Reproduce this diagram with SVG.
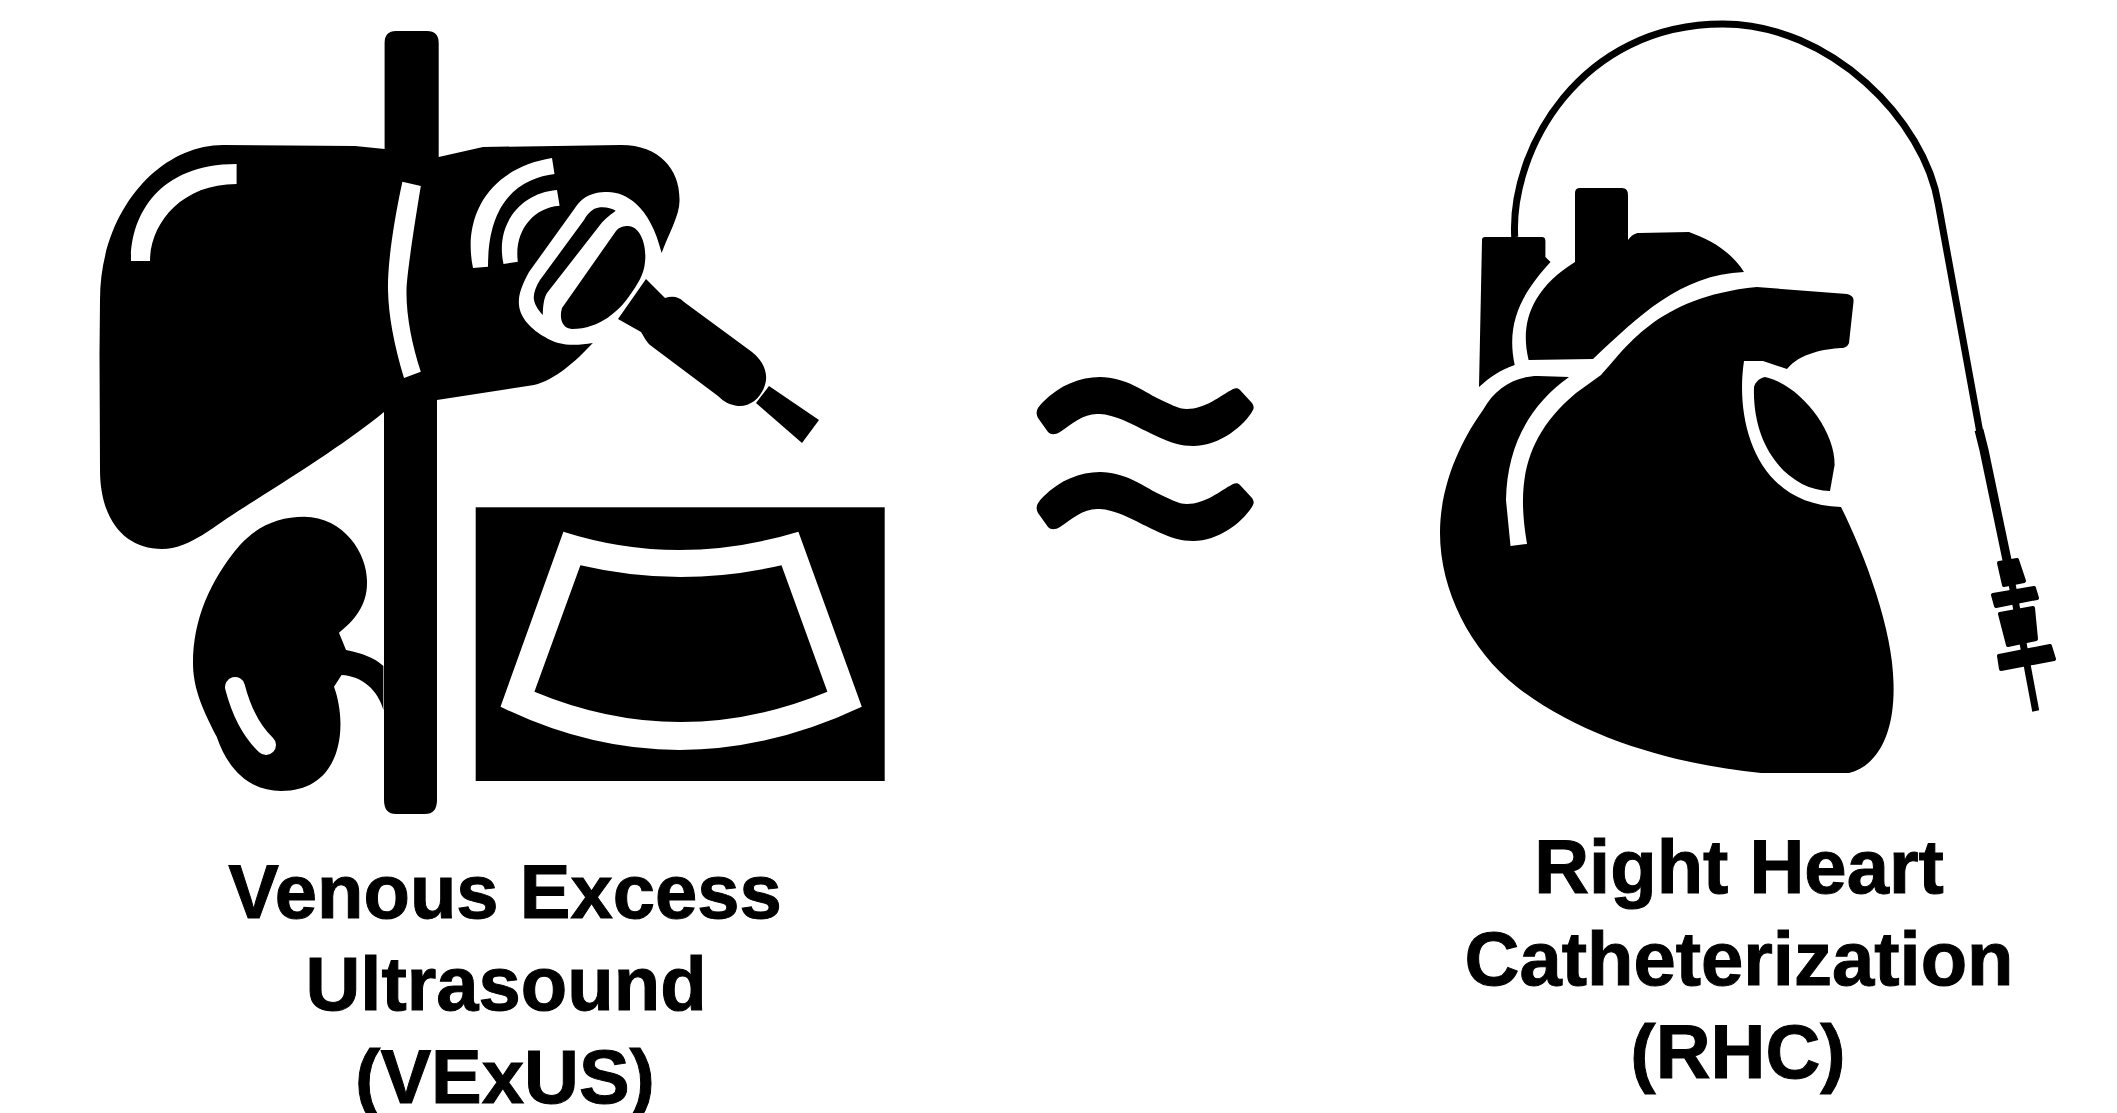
<svg xmlns="http://www.w3.org/2000/svg" width="2117" height="1113" viewBox="0 0 2117 1113">
<style>
.k{fill:#000}
.w{fill:#fff}
.b{fill:#000;stroke:#000;stroke-width:4;stroke-linejoin:round}
.t{font:bold 76px "Liberation Sans",Arial,sans-serif;fill:#000;stroke:#000;stroke-width:1;text-anchor:middle}
.c{fill:none;stroke:#000;stroke-linecap:butt;stroke-linejoin:round}
</style>
<rect width="2117" height="1113" fill="#fff"/>
<g id="vexus-icon">
<path class="k" d="M384.6,149 L355,146 L223,145 C160,145 100,210 100,300 L99.5,353 L100,470 C100,520 125,549 162,549 C190,549 215,525 243,508 C300,472 350,440 384,412 L384,800 Q384,814 396,814 L425,814 Q437,814 437,800 L437,400 L534,385 C555,380 575,362 592.8,343 C575,346 558,346 545,337 C532,330 520,318 519,305 C518,295 522,285 529,272 L575,208 C582,198 590,192 608,192 C625,192 650,205 661.6,253 C668,235 680,215 679.5,200 C680,170 660,145 621,145 L483,147 L438.7,157 L438.7,43 Q438.7,31 427,31 L396,31 Q384.6,31 384.6,43 Z"/>
<path class="w" d="M131,261 C130,220 155,164 236.6,164 L236.6,184 C180,184 150,225 150,261 Z"/>
<path class="w" d="M402.4,181.7 L420.8,186 C412,240 407,275 406.5,290 C406,315 412,345 420.8,371.7 L404,378 C394,345 388.5,315 388,290 C387.5,265 393,225 402.4,181.7 Z"/>
<path class="w" d="M552,158 L554.5,174 C525,178 488,195 488,266.7 L473,268 C462,215 490,168 552,158 Z"/>
<path class="w" d="M557,190 L559.6,205.7 C532,208 514,232 517.8,261.7 L503.5,264 C495,225 520,193 557,190 Z"/>
<path class="k" d="M615.7,210.7 C610,207 600,206 594,209 C589,212 586,216 584,220 L540,280 C535,288 533,295 534,300 C535,306 540,312 542.8,315 C543,305 544,298 547,293 L600,225 C606,217 612,214 615.7,210.7 Z"/>
<path class="k" d="M628,226 C640,226 647,245 645,262 C644,275 637,285 630,295 C620,310 600,329 572,329 C562,329 559,318 562,308 L616,231 C619,227 624,226 628,226 Z"/>
<path class="k" d="M646,279 L665,298 C672,296 678,296 684,302 L752,352 C762,360 767,370 766,380 C764,395 752,407 738,406 C730,405 724,402 718,396 L650,345 C645,340 643,335 641,332 L618,319 Z"/>
<path class="k" d="M769,386 L819,420 L802,443 L756,403 Z"/>
<path class="k" d="M304,516.7 C345,517 368,555 367,583 C367,605 355,620 339,632.7 L346,650 C362,653 375,658 383.4,666 L383.4,710 C378,690 362,676 341.6,675 L334,686.7 C348,725 343,791 281,791 C250,791 228,770 216.7,736.7 C200,705 193,685 193,663 C193,620 210,580 240,545 C258,525 280,516.7 304,516.7 Z"/>
<path d="M235,687 C241,710 250,730 266,745" fill="none" stroke="#fff" stroke-width="20" stroke-linecap="round"/>
<rect class="k" x="475.7" y="507.3" width="409" height="273.7"/>
<path class="w" d="M563.4,531.7 Q678,568.3 798.4,531.7 L861.8,706.7 Q678,793.3 500.5,706.7 Z"/>
<path class="k" d="M580.4,565.3 Q680,588.7 781.5,565.3 L827.4,691.7 Q680,752.3 534.4,691.7 Z"/>
</g>
<g id="approx-symbol">
<path id="wave1" class="k" d="M1043,402 C1060,385 1080,377 1100,377 C1125,377 1145,392 1157,398 C1170,404 1178,409 1187,409 C1205,409 1220,396 1233,389 C1236,388 1238,388 1240,390 L1252,403 C1254,406 1254,408 1253,410 C1245,425 1220,446 1193,446 C1170,446 1150,432 1123,420 C1110,415 1105,414 1097,414 C1083,414 1072,424 1060,432 C1055,435 1051,435 1048,432 L1038,418 C1035,412 1037,408 1043,402 Z"/>
<path id="wave2" class="k" transform="translate(0,95)" d="M1043,402 C1060,385 1080,377 1100,377 C1125,377 1145,392 1157,398 C1170,404 1178,409 1187,409 C1205,409 1220,396 1233,389 C1236,388 1238,388 1240,390 L1252,403 C1254,406 1254,408 1253,410 C1245,425 1220,446 1193,446 C1170,446 1150,432 1123,420 C1110,415 1105,414 1097,414 C1083,414 1072,424 1060,432 C1055,435 1051,435 1048,432 L1038,418 C1035,412 1037,408 1043,402 Z"/>
</g>
<g id="rhc-icon">
<path class="k" d="M1756.7,287 L1847,294 C1852,295 1854,298 1853.5,301.7 L1849,343 C1848,346 1845,348 1841,348 C1825,349 1800,353 1787,369 L1763,361 L1744,361 C1735,420 1755,505 1841,507 C1865,555 1893,630 1893.5,683 C1895,730 1880,765 1849,773 L1761,773 C1680,765 1585,740 1517,687 C1470,650 1440,590 1440,533 C1440,480 1465,435 1483,410 C1495,388 1515,376 1538,376 L1569,377 C1530,405 1507,445 1506,500 L1510.5,546 L1527,544 C1518,490 1520,440 1576,393 L1601,375 C1625,350 1655,297 1756.7,287 Z"/>
<path class="k" d="M1765,377 C1800,385 1835,430 1834.6,465 L1830,491 C1790,490 1752,450 1754,387 C1755,382 1760,378 1765,377 Z"/>
<path class="k" d="M1575,262 L1575,193 Q1575,188 1580,188 L1622,188 Q1628,188 1628,195 L1628,240 C1632,235 1635,233 1639,233 L1689,232 C1710,240 1730,250 1744,272 C1680,275 1640,315 1593,359 L1528.6,360 C1520,325 1530,290 1575,262 Z"/>
<path class="k" d="M1479,387 L1482,240 Q1482,237 1485,237 L1542,237 Q1545.4,237 1545.4,241 L1545.4,257 L1550.5,262 C1525,290 1505,320 1514.7,365 C1500,370 1490,377 1479,387 Z"/>
<path class="b" d="M1999,563 L2017,560 L2024,581 L2004,585 Z"/>
<path class="b" d="M1993,595 L2034,588 L2037,598 L1996,606 Z"/>
<path class="b" d="M2000,614 L2033,608 L2036,639 L2008,645 Z"/>
<path class="b" d="M1999,656 L2050,646 L2054,659 L2001,669 Z"/>
</g>
<g id="connectors">
<path class="c" stroke-width="7" d="M1514.7,237 C1510,150 1580,24 1723,24 C1830,24 1925,120 1938.5,205 L1980,433"/>
<path class="c" stroke-width="9" d="M1979,430 L1984,450 L2007,560"/>
<path class="c" stroke-width="7" d="M2007,557 L2035.7,711"/>
</g>
<g id="labels">
<text class="t" x="505" y="918">Venous Excess</text>
<text class="t" x="506" y="1010">Ultrasound</text>
<text class="t" x="505" y="1103">(VExUS)</text>
<text class="t" x="1739" y="893">Right Heart</text>
<text class="t" x="1739" y="985">Catheterization</text>
<text class="t" x="1738" y="1078">(RHC)</text>
</g>
</svg>
